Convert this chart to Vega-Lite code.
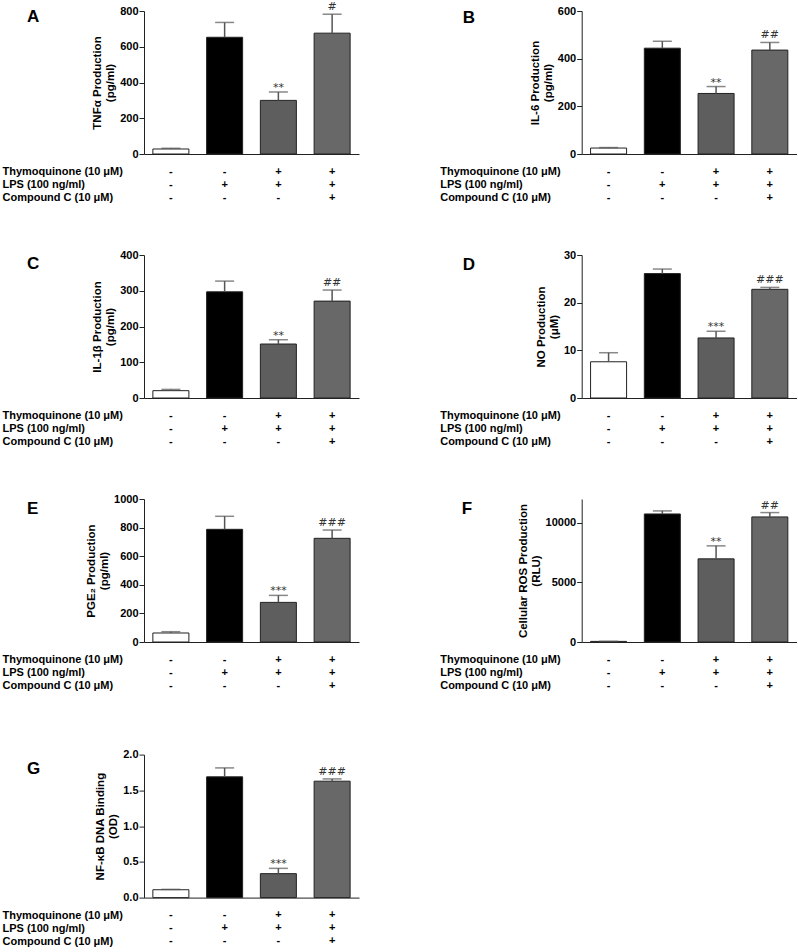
{
  "$schema": "https://vega.github.io/schema/vega-lite/v6.json",
  "autosize": {"type": "pad"},
  "padding": {"left": 2, "top": 1, "right": 0, "bottom": 0},
  "background": "white",
  "spacing": 56.6,
  "datasets": {
    "A": [{"g": 1, "v": 28, "e": 32, "s": ""}, {"g": 2, "v": 653, "e": 736, "s": ""}, {"g": 3, "v": 300, "e": 347, "s": "**"}, {"g": 4, "v": 676, "e": 782, "s": "#"}],
    "B": [{"g": 1, "v": 25, "e": 27, "s": ""}, {"g": 2, "v": 444, "e": 473, "s": ""}, {"g": 3, "v": 254, "e": 283, "s": "**"}, {"g": 4, "v": 436, "e": 468, "s": "##"}],
    "C": [{"g": 1, "v": 20.5, "e": 24, "s": ""}, {"g": 2, "v": 297, "e": 327, "s": ""}, {"g": 3, "v": 151, "e": 163, "s": "**"}, {"g": 4, "v": 271, "e": 302, "s": "##"}],
    "D": [{"g": 1, "v": 7.6, "e": 9.5, "s": ""}, {"g": 2, "v": 26.1, "e": 27.05, "s": ""}, {"g": 3, "v": 12.6, "e": 14.0, "s": "***"}, {"g": 4, "v": 22.8, "e": 23.2, "s": "###"}],
    "E": [{"g": 1, "v": 63, "e": 72, "s": ""}, {"g": 2, "v": 788, "e": 879, "s": ""}, {"g": 3, "v": 277, "e": 326, "s": "***"}, {"g": 4, "v": 725, "e": 783, "s": "###"}],
    "F": [{"g": 1, "v": 50, "e": 60, "s": ""}, {"g": 2, "v": 10745, "e": 11000, "s": ""}, {"g": 3, "v": 6978, "e": 8067, "s": "**"}, {"g": 4, "v": 10496, "e": 10860, "s": "##"}],
    "G": [{"g": 1, "v": 0.11, "e": 0.115, "s": ""}, {"g": 2, "v": 1.689, "e": 1.814, "s": ""}, {"g": 3, "v": 0.335, "e": 0.409, "s": "***"}, {"g": 4, "v": 1.628, "e": 1.66, "s": "###"}],
    "tab": [
      {"g": 1, "row": "Thymoquinone (10 μM)", "sign": "-"},
      {"g": 2, "row": "Thymoquinone (10 μM)", "sign": "-"},
      {"g": 3, "row": "Thymoquinone (10 μM)", "sign": "+"},
      {"g": 4, "row": "Thymoquinone (10 μM)", "sign": "+"},
      {"g": 1, "row": "LPS (100 ng/ml)", "sign": "-"},
      {"g": 2, "row": "LPS (100 ng/ml)", "sign": "+"},
      {"g": 3, "row": "LPS (100 ng/ml)", "sign": "+"},
      {"g": 4, "row": "LPS (100 ng/ml)", "sign": "+"},
      {"g": 1, "row": "Compound C (10 μM)", "sign": "-"},
      {"g": 2, "row": "Compound C (10 μM)", "sign": "-"},
      {"g": 3, "row": "Compound C (10 μM)", "sign": "-"},
      {"g": 4, "row": "Compound C (10 μM)", "sign": "+"}
    ]
  },
  "vconcat": [
    {
      "spacing": 45,
      "vconcat": [
        {
          "columns": 2, "bounds": "flush", "align": "each", "spacing": {"row": 11, "column": 222.7},
          "concat": [
            {
              "width": 215, "height": 143, "data": {"name": "A"},
              "title": {"text": "A", "orient": "bottom", "anchor": "start", "frame": "group", "offset": 0, "dx": -117, "dy": -150, "baseline": "top", "font": "Liberation Sans", "fontSize": 17, "fontWeight": "bold", "color": "#000"},
              "encoding": {"x": {"field": "g", "type": "ordinal", "scale": {"paddingInner": 0.33, "paddingOuter": 0.165}, "axis": {"labels": false, "ticks": false, "title": null}}},
              "layer": [
                {"mark": {"type": "bar", "stroke": "#222", "strokeWidth": 1}, "encoding": {"y": {"field": "v", "type": "quantitative", "scale": {"domain": [0, 800], "nice": false}, "axis": {"values": [0, 200, 400, 600, 800], "tickCount": 20, "title": ["TNFα Production", "(pg/ml)"]}}, "fill": {"field": "g", "type": "ordinal", "scale": {"domain": [1, 2, 3, 4], "range": ["#ffffff", "#000000", "#5e5e5e", "#686868"]}, "legend": null}}},
                {"mark": {"type": "rule", "color": "#555", "strokeWidth": 1.5}, "encoding": {"y": {"field": "v", "type": "quantitative"}, "y2": {"field": "e"}}},
                {"mark": {"type": "tick", "color": "#555", "thickness": 1.5, "size": 19}, "encoding": {"y": {"field": "e", "type": "quantitative"}}},
                {"transform": [{"filter": {"field": "s", "oneOf": ["*", "**", "***"]}}], "mark": {"type": "text", "font": "DejaVu Sans", "fontSize": 11, "dy": -1, "baseline": "alphabetic", "color": "#333"}, "encoding": {"y": {"field": "e", "type": "quantitative"}, "text": {"field": "s"}}},
                {"transform": [{"filter": {"field": "s", "oneOf": ["#", "##", "###"]}}], "mark": {"type": "text", "font": "DejaVu Sans", "fontSize": 11, "dy": -4, "baseline": "alphabetic", "color": "#333"}, "encoding": {"y": {"field": "e", "type": "quantitative"}, "text": {"field": "s"}}}
              ]
            },
            {
              "width": 215, "height": 143, "data": {"name": "B"},
              "title": {"text": "B", "orient": "bottom", "anchor": "start", "frame": "group", "offset": 0, "dx": -119, "dy": -149, "baseline": "top", "font": "Liberation Sans", "fontSize": 17, "fontWeight": "bold", "color": "#000"},
              "encoding": {"x": {"field": "g", "type": "ordinal", "scale": {"paddingInner": 0.33, "paddingOuter": 0.165}, "axis": {"labels": false, "ticks": false, "title": null}}},
              "layer": [
                {"mark": {"type": "bar", "stroke": "#222", "strokeWidth": 1}, "encoding": {"y": {"field": "v", "type": "quantitative", "scale": {"domain": [0, 600], "nice": false}, "axis": {"values": [0, 200, 400, 600], "tickCount": 20, "title": ["IL-6 Production", "(pg/ml)"]}}, "fill": {"field": "g", "type": "ordinal", "scale": {"domain": [1, 2, 3, 4], "range": ["#ffffff", "#000000", "#5e5e5e", "#686868"]}, "legend": null}}},
                {"mark": {"type": "rule", "color": "#555", "strokeWidth": 1.5}, "encoding": {"y": {"field": "v", "type": "quantitative"}, "y2": {"field": "e"}}},
                {"mark": {"type": "tick", "color": "#555", "thickness": 1.5, "size": 19}, "encoding": {"y": {"field": "e", "type": "quantitative"}}},
                {"transform": [{"filter": {"field": "s", "oneOf": ["*", "**", "***"]}}], "mark": {"type": "text", "font": "DejaVu Sans", "fontSize": 11, "dy": -1, "baseline": "alphabetic", "color": "#333"}, "encoding": {"y": {"field": "e", "type": "quantitative"}, "text": {"field": "s"}}},
                {"transform": [{"filter": {"field": "s", "oneOf": ["#", "##", "###"]}}], "mark": {"type": "text", "font": "DejaVu Sans", "fontSize": 11, "dy": -4, "baseline": "alphabetic", "color": "#333"}, "encoding": {"y": {"field": "e", "type": "quantitative"}, "text": {"field": "s"}}}
              ]
            },
            {
              "width": 215, "height": 39, "data": {"name": "tab"},
              "mark": {"type": "text", "font": "Liberation Sans", "fontSize": 11, "fontWeight": "bold", "color": "#000"},
              "encoding": {
                "x": {"field": "g", "type": "ordinal", "scale": {"paddingInner": 0.33, "paddingOuter": 0.165}, "axis": null},
                "y": {"field": "row", "type": "nominal", "scale": {"type": "point", "domain": ["Thymoquinone (10 μM)", "LPS (100 ng/ml)", "Compound C (10 μM)"], "padding": 0.5}, "axis": {"domain": false, "ticks": false, "tickSize": 0, "labelPadding": 142, "labelAlign": "left", "labelLimit": 0, "title": null}},
                "text": {"field": "sign"}
              }
            },
            {
              "width": 215, "height": 39, "data": {"name": "tab"},
              "mark": {"type": "text", "font": "Liberation Sans", "fontSize": 11, "fontWeight": "bold", "color": "#000"},
              "encoding": {
                "x": {"field": "g", "type": "ordinal", "scale": {"paddingInner": 0.33, "paddingOuter": 0.165}, "axis": null},
                "y": {"field": "row", "type": "nominal", "scale": {"type": "point", "domain": ["Thymoquinone (10 μM)", "LPS (100 ng/ml)", "Compound C (10 μM)"], "padding": 0.5}, "axis": {"domain": false, "ticks": false, "tickSize": 0, "labelPadding": 142, "labelAlign": "left", "labelLimit": 0, "title": null}},
                "text": {"field": "sign"}
              }
            }
          ]
        },
        {
          "columns": 2, "bounds": "flush", "align": "each", "spacing": {"row": 11, "column": 222.7},
          "concat": [
            {
              "width": 215, "height": 143, "data": {"name": "C"},
              "title": {"text": "C", "orient": "bottom", "anchor": "start", "frame": "group", "offset": 0, "dx": -117, "dy": -146.6, "baseline": "top", "font": "Liberation Sans", "fontSize": 17, "fontWeight": "bold", "color": "#000"},
              "encoding": {"x": {"field": "g", "type": "ordinal", "scale": {"paddingInner": 0.33, "paddingOuter": 0.165}, "axis": {"labels": false, "ticks": false, "title": null}}},
              "layer": [
                {"mark": {"type": "bar", "stroke": "#222", "strokeWidth": 1}, "encoding": {"y": {"field": "v", "type": "quantitative", "scale": {"domain": [0, 400], "nice": false}, "axis": {"values": [0, 100, 200, 300, 400], "tickCount": 20, "title": ["IL-1β Production", "(pg/ml)"]}}, "fill": {"field": "g", "type": "ordinal", "scale": {"domain": [1, 2, 3, 4], "range": ["#ffffff", "#000000", "#5e5e5e", "#686868"]}, "legend": null}}},
                {"mark": {"type": "rule", "color": "#555", "strokeWidth": 1.5}, "encoding": {"y": {"field": "v", "type": "quantitative"}, "y2": {"field": "e"}}},
                {"mark": {"type": "tick", "color": "#555", "thickness": 1.5, "size": 19}, "encoding": {"y": {"field": "e", "type": "quantitative"}}},
                {"transform": [{"filter": {"field": "s", "oneOf": ["*", "**", "***"]}}], "mark": {"type": "text", "font": "DejaVu Sans", "fontSize": 11, "dy": -1, "baseline": "alphabetic", "color": "#333"}, "encoding": {"y": {"field": "e", "type": "quantitative"}, "text": {"field": "s"}}},
                {"transform": [{"filter": {"field": "s", "oneOf": ["#", "##", "###"]}}], "mark": {"type": "text", "font": "DejaVu Sans", "fontSize": 11, "dy": -4, "baseline": "alphabetic", "color": "#333"}, "encoding": {"y": {"field": "e", "type": "quantitative"}, "text": {"field": "s"}}}
              ]
            },
            {
              "width": 215, "height": 143, "data": {"name": "D"},
              "title": {"text": "D", "orient": "bottom", "anchor": "start", "frame": "group", "offset": 0, "dx": -119, "dy": -146.4, "baseline": "top", "font": "Liberation Sans", "fontSize": 17, "fontWeight": "bold", "color": "#000"},
              "encoding": {"x": {"field": "g", "type": "ordinal", "scale": {"paddingInner": 0.33, "paddingOuter": 0.165}, "axis": {"labels": false, "ticks": false, "title": null}}},
              "layer": [
                {"mark": {"type": "bar", "stroke": "#222", "strokeWidth": 1}, "encoding": {"y": {"field": "v", "type": "quantitative", "scale": {"domain": [0, 30], "nice": false}, "axis": {"values": [0, 10, 20, 30], "tickCount": 20, "title": ["NO Production", "(μM)"]}}, "fill": {"field": "g", "type": "ordinal", "scale": {"domain": [1, 2, 3, 4], "range": ["#ffffff", "#000000", "#5e5e5e", "#686868"]}, "legend": null}}},
                {"mark": {"type": "rule", "color": "#555", "strokeWidth": 1.5}, "encoding": {"y": {"field": "v", "type": "quantitative"}, "y2": {"field": "e"}}},
                {"mark": {"type": "tick", "color": "#555", "thickness": 1.5, "size": 19}, "encoding": {"y": {"field": "e", "type": "quantitative"}}},
                {"transform": [{"filter": {"field": "s", "oneOf": ["*", "**", "***"]}}], "mark": {"type": "text", "font": "DejaVu Sans", "fontSize": 11, "dy": -1, "baseline": "alphabetic", "color": "#333"}, "encoding": {"y": {"field": "e", "type": "quantitative"}, "text": {"field": "s"}}},
                {"transform": [{"filter": {"field": "s", "oneOf": ["#", "##", "###"]}}], "mark": {"type": "text", "font": "DejaVu Sans", "fontSize": 11, "dy": -4, "baseline": "alphabetic", "color": "#333"}, "encoding": {"y": {"field": "e", "type": "quantitative"}, "text": {"field": "s"}}}
              ]
            },
            {
              "width": 215, "height": 39, "data": {"name": "tab"},
              "mark": {"type": "text", "font": "Liberation Sans", "fontSize": 11, "fontWeight": "bold", "color": "#000"},
              "encoding": {
                "x": {"field": "g", "type": "ordinal", "scale": {"paddingInner": 0.33, "paddingOuter": 0.165}, "axis": null},
                "y": {"field": "row", "type": "nominal", "scale": {"type": "point", "domain": ["Thymoquinone (10 μM)", "LPS (100 ng/ml)", "Compound C (10 μM)"], "padding": 0.5}, "axis": {"domain": false, "ticks": false, "tickSize": 0, "labelPadding": 142, "labelAlign": "left", "labelLimit": 0, "title": null}},
                "text": {"field": "sign"}
              }
            },
            {
              "width": 215, "height": 39, "data": {"name": "tab"},
              "mark": {"type": "text", "font": "Liberation Sans", "fontSize": 11, "fontWeight": "bold", "color": "#000"},
              "encoding": {
                "x": {"field": "g", "type": "ordinal", "scale": {"paddingInner": 0.33, "paddingOuter": 0.165}, "axis": null},
                "y": {"field": "row", "type": "nominal", "scale": {"type": "point", "domain": ["Thymoquinone (10 μM)", "LPS (100 ng/ml)", "Compound C (10 μM)"], "padding": 0.5}, "axis": {"domain": false, "ticks": false, "tickSize": 0, "labelPadding": 142, "labelAlign": "left", "labelLimit": 0, "title": null}},
                "text": {"field": "sign"}
              }
            }
          ]
        },
        {
          "columns": 2, "bounds": "flush", "align": "each", "spacing": {"row": 11, "column": 222.7},
          "concat": [
            {
              "width": 215, "height": 143, "data": {"name": "E"},
              "title": {"text": "E", "orient": "bottom", "anchor": "start", "frame": "group", "offset": 0, "dx": -117, "dy": -145.7, "baseline": "top", "font": "Liberation Sans", "fontSize": 17, "fontWeight": "bold", "color": "#000"},
              "encoding": {"x": {"field": "g", "type": "ordinal", "scale": {"paddingInner": 0.33, "paddingOuter": 0.165}, "axis": {"labels": false, "ticks": false, "title": null}}},
              "layer": [
                {"mark": {"type": "bar", "stroke": "#222", "strokeWidth": 1}, "encoding": {"y": {"field": "v", "type": "quantitative", "scale": {"domain": [0, 1000], "nice": false}, "axis": {"values": [0, 200, 400, 600, 800, 1000], "tickCount": 20, "format": "d", "title": ["PGE₂ Production", "(pg/ml)"]}}, "fill": {"field": "g", "type": "ordinal", "scale": {"domain": [1, 2, 3, 4], "range": ["#ffffff", "#000000", "#5e5e5e", "#686868"]}, "legend": null}}},
                {"mark": {"type": "rule", "color": "#555", "strokeWidth": 1.5}, "encoding": {"y": {"field": "v", "type": "quantitative"}, "y2": {"field": "e"}}},
                {"mark": {"type": "tick", "color": "#555", "thickness": 1.5, "size": 19}, "encoding": {"y": {"field": "e", "type": "quantitative"}}},
                {"transform": [{"filter": {"field": "s", "oneOf": ["*", "**", "***"]}}], "mark": {"type": "text", "font": "DejaVu Sans", "fontSize": 11, "dy": -1, "baseline": "alphabetic", "color": "#333"}, "encoding": {"y": {"field": "e", "type": "quantitative"}, "text": {"field": "s"}}},
                {"transform": [{"filter": {"field": "s", "oneOf": ["#", "##", "###"]}}], "mark": {"type": "text", "font": "DejaVu Sans", "fontSize": 11, "dy": -4, "baseline": "alphabetic", "color": "#333"}, "encoding": {"y": {"field": "e", "type": "quantitative"}, "text": {"field": "s"}}}
              ]
            },
            {
              "width": 215, "height": 143, "data": {"name": "F"},
              "title": {"text": "F", "orient": "bottom", "anchor": "start", "frame": "group", "offset": 0, "dx": -120, "dy": -146, "baseline": "top", "font": "Liberation Sans", "fontSize": 17, "fontWeight": "bold", "color": "#000"},
              "encoding": {"x": {"field": "g", "type": "ordinal", "scale": {"paddingInner": 0.33, "paddingOuter": 0.165}, "axis": {"labels": false, "ticks": false, "title": null}}},
              "layer": [
                {"mark": {"type": "bar", "stroke": "#222", "strokeWidth": 1}, "encoding": {"y": {"field": "v", "type": "quantitative", "scale": {"domain": [0, 12000], "nice": false}, "axis": {"values": [0, 5000, 10000], "tickCount": 20, "format": "d", "title": ["Cellular ROS Production", "(RLU)"]}}, "fill": {"field": "g", "type": "ordinal", "scale": {"domain": [1, 2, 3, 4], "range": ["#ffffff", "#000000", "#5e5e5e", "#686868"]}, "legend": null}}},
                {"mark": {"type": "rule", "color": "#555", "strokeWidth": 1.5}, "encoding": {"y": {"field": "v", "type": "quantitative"}, "y2": {"field": "e"}}},
                {"mark": {"type": "tick", "color": "#555", "thickness": 1.5, "size": 19}, "encoding": {"y": {"field": "e", "type": "quantitative"}}},
                {"transform": [{"filter": {"field": "s", "oneOf": ["*", "**", "***"]}}], "mark": {"type": "text", "font": "DejaVu Sans", "fontSize": 11, "dy": -1, "baseline": "alphabetic", "color": "#333"}, "encoding": {"y": {"field": "e", "type": "quantitative"}, "text": {"field": "s"}}},
                {"transform": [{"filter": {"field": "s", "oneOf": ["#", "##", "###"]}}], "mark": {"type": "text", "font": "DejaVu Sans", "fontSize": 11, "dy": -4, "baseline": "alphabetic", "color": "#333"}, "encoding": {"y": {"field": "e", "type": "quantitative"}, "text": {"field": "s"}}}
              ]
            },
            {
              "width": 215, "height": 39, "data": {"name": "tab"},
              "mark": {"type": "text", "font": "Liberation Sans", "fontSize": 11, "fontWeight": "bold", "color": "#000"},
              "encoding": {
                "x": {"field": "g", "type": "ordinal", "scale": {"paddingInner": 0.33, "paddingOuter": 0.165}, "axis": null},
                "y": {"field": "row", "type": "nominal", "scale": {"type": "point", "domain": ["Thymoquinone (10 μM)", "LPS (100 ng/ml)", "Compound C (10 μM)"], "padding": 0.5}, "axis": {"domain": false, "ticks": false, "tickSize": 0, "labelPadding": 142, "labelAlign": "left", "labelLimit": 0, "title": null}},
                "text": {"field": "sign"}
              }
            },
            {
              "width": 215, "height": 39, "data": {"name": "tab"},
              "mark": {"type": "text", "font": "Liberation Sans", "fontSize": 11, "fontWeight": "bold", "color": "#000"},
              "encoding": {
                "x": {"field": "g", "type": "ordinal", "scale": {"paddingInner": 0.33, "paddingOuter": 0.165}, "axis": null},
                "y": {"field": "row", "type": "nominal", "scale": {"type": "point", "domain": ["Thymoquinone (10 μM)", "LPS (100 ng/ml)", "Compound C (10 μM)"], "padding": 0.5}, "axis": {"domain": false, "ticks": false, "tickSize": 0, "labelPadding": 142, "labelAlign": "left", "labelLimit": 0, "title": null}},
                "text": {"field": "sign"}
              }
            }
          ]
        }
      ]
    },
    {
      "bounds": "flush", "spacing": 11,
      "vconcat": [
        {
          "width": 215, "height": 143, "data": {"name": "G"},
          "title": {"text": "G", "orient": "bottom", "anchor": "start", "frame": "group", "offset": 0, "dx": -117, "dy": -141.6, "baseline": "top", "font": "Liberation Sans", "fontSize": 17, "fontWeight": "bold", "color": "#000"},
          "encoding": {"x": {"field": "g", "type": "ordinal", "scale": {"paddingInner": 0.33, "paddingOuter": 0.165}, "axis": {"labels": false, "ticks": false, "title": null}}},
          "layer": [
            {"mark": {"type": "bar", "stroke": "#222", "strokeWidth": 1}, "encoding": {"y": {"field": "v", "type": "quantitative", "scale": {"domain": [0, 2], "nice": false}, "axis": {"values": [0, 0.5, 1, 1.5, 2], "tickCount": 20, "format": ".1f", "title": ["NF-κB DNA Binding", "(OD)"]}}, "fill": {"field": "g", "type": "ordinal", "scale": {"domain": [1, 2, 3, 4], "range": ["#ffffff", "#000000", "#5e5e5e", "#686868"]}, "legend": null}}},
            {"mark": {"type": "rule", "color": "#555", "strokeWidth": 1.5}, "encoding": {"y": {"field": "v", "type": "quantitative"}, "y2": {"field": "e"}}},
            {"mark": {"type": "tick", "color": "#555", "thickness": 1.5, "size": 19}, "encoding": {"y": {"field": "e", "type": "quantitative"}}},
            {"transform": [{"filter": {"field": "s", "oneOf": ["*", "**", "***"]}}], "mark": {"type": "text", "font": "DejaVu Sans", "fontSize": 11, "dy": -1, "baseline": "alphabetic", "color": "#333"}, "encoding": {"y": {"field": "e", "type": "quantitative"}, "text": {"field": "s"}}},
            {"transform": [{"filter": {"field": "s", "oneOf": ["#", "##", "###"]}}], "mark": {"type": "text", "font": "DejaVu Sans", "fontSize": 11, "dy": -4, "baseline": "alphabetic", "color": "#333"}, "encoding": {"y": {"field": "e", "type": "quantitative"}, "text": {"field": "s"}}}
          ]
        },
        {
          "width": 215, "height": 39, "data": {"name": "tab"},
          "mark": {"type": "text", "font": "Liberation Sans", "fontSize": 11, "fontWeight": "bold", "color": "#000"},
          "encoding": {
            "x": {"field": "g", "type": "ordinal", "scale": {"paddingInner": 0.33, "paddingOuter": 0.165}, "axis": null},
            "y": {"field": "row", "type": "nominal", "scale": {"type": "point", "domain": ["Thymoquinone (10 μM)", "LPS (100 ng/ml)", "Compound C (10 μM)"], "padding": 0.5}, "axis": {"domain": false, "ticks": false, "tickSize": 0, "labelPadding": 142, "labelAlign": "left", "labelLimit": 0, "title": null}},
            "text": {"field": "sign"}
          }
        }
      ]
    }
  ],
  "config": {
    "view": {"stroke": null},
    "font": "Liberation Sans",
    "axis": {
      "grid": false, "labelOverlap": false,
      "labelFont": "Liberation Sans", "labelFontSize": 11, "labelFontWeight": "bold", "labelColor": "#000",
      "titleFont": "Liberation Sans", "titleFontSize": 11.5, "titleFontWeight": "bold", "titleColor": "#000", "titleLineHeight": 13,
      "domainColor": "#222", "tickColor": "#222", "tickSize": 5, "labelPadding": 1, "titlePadding": 4
    }
  }
}
